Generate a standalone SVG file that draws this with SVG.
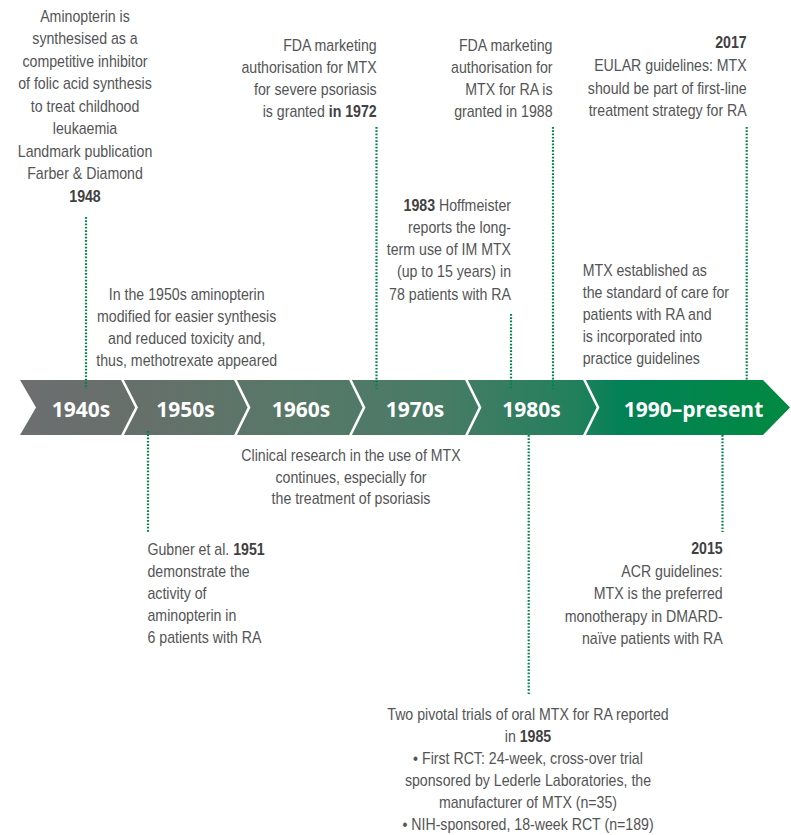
<svg xmlns="http://www.w3.org/2000/svg" width="791" height="835" viewBox="0 0 791 835">
<defs>
<linearGradient id="barGrad" gradientUnits="userSpaceOnUse" x1="20" y1="0" x2="790" y2="0">
<stop offset="0" stop-color="#6d6e70"/>
<stop offset="0.17" stop-color="#65706a"/>
<stop offset="0.35" stop-color="#587868"/>
<stop offset="0.55" stop-color="#487b66"/>
<stop offset="0.72" stop-color="#22805c"/>
<stop offset="0.78" stop-color="#038157"/>
<stop offset="1" stop-color="#008a40"/>
</linearGradient>
<style>
.t{font-family:"Liberation Sans",Arial,sans-serif;font-size:16px;fill:#545456}
.b{font-weight:bold;fill:#414042}
.mid{text-anchor:middle}
.end{text-anchor:end}
.yr{font-family:"Open Sans","DejaVu Sans",sans-serif;font-size:21px;font-weight:700;fill:#ffffff;text-anchor:middle}
.dot{fill:none;stroke:#00844a;stroke-width:2.2;stroke-dasharray:1.7 1.6}
.sep{fill:none;stroke:#ffffff;stroke-width:2.6}
</style>
</defs>
<rect width="791" height="835" fill="#ffffff"/>

<g id="timeline-bar">
<path d="M20,380 L763,380 L790,407.5 L763,435 L20,435 L36,407.5 Z" fill="url(#barGrad)"/>
<path class="sep" d="M122,379 L136.5,407.5 L122,436"/>
<path class="sep" d="M235,379 L249,407.5 L235,436"/>
<path class="sep" d="M350,379 L364,407.5 L350,436"/>
<path class="sep" d="M466,379 L480,407.5 L466,436"/>
<path class="sep" d="M584,379 L598,407.5 L584,436"/>
</g>

<g id="decade-1940s"><text class="yr" x="81" y="416.5">1940s</text></g>
<g id="decade-1950s"><text class="yr" x="185.5" y="416.5">1950s</text></g>
<g id="decade-1960s"><text class="yr" x="301" y="416.5">1960s</text></g>
<g id="decade-1970s"><text class="yr" x="415" y="416.5">1970s</text></g>
<g id="decade-1980s"><text class="yr" x="531.5" y="416.5">1980s</text></g>
<g id="decade-1990-present"><text class="yr" x="693.5" y="416.5">1990–present</text></g>

<g id="connectors">
<line class="dot" x1="86" y1="217" x2="86" y2="389"/>
<line class="dot" x1="376.5" y1="127" x2="376.5" y2="389"/>
<line class="dot" x1="511" y1="314" x2="511" y2="389"/>
<line class="dot" x1="553" y1="127" x2="553" y2="389"/>
<line class="dot" x1="746.7" y1="127" x2="746.7" y2="380"/>
<line class="dot" x1="148" y1="431" x2="148" y2="532"/>
<line class="dot" x1="528.7" y1="435" x2="528.7" y2="695"/>
<line class="dot" x1="722.5" y1="435" x2="722.5" y2="532"/>
</g>

<g id="event-1948" transform="translate(85,0) scale(0.885,1)">
<text class="t mid" x="0" y="22">Aminopterin is</text>
<text class="t mid" x="0" y="44.5">synthesised as a</text>
<text class="t mid" x="0" y="67">competitive inhibitor</text>
<text class="t mid" x="0" y="89.5">of folic acid synthesis</text>
<text class="t mid" x="0" y="112">to treat childhood</text>
<text class="t mid" x="0" y="134.5">leukaemia</text>
<text class="t mid" x="0" y="157">Landmark publication</text>
<text class="t mid" x="0" y="179.5">Farber &amp; Diamond</text>
<text class="t b mid" x="0" y="202">1948</text>
</g>

<g id="event-1972" transform="translate(376.7,0) scale(0.885,1)">
<text class="t end" x="0" y="51.5">FDA marketing</text>
<text class="t end" x="0" y="73.5">authorisation for MTX</text>
<text class="t end" x="0" y="95.5">for severe psoriasis</text>
<text class="t end" x="0" y="117.5">is granted <tspan class="b">in 1972</tspan></text>
</g>

<g id="event-1988" transform="translate(552.5,0) scale(0.885,1)">
<text class="t end" x="0" y="51.5">FDA marketing</text>
<text class="t end" x="0" y="73.5">authorisation for</text>
<text class="t end" x="0" y="95.5">MTX for RA is</text>
<text class="t end" x="0" y="117.5">granted in 1988</text>
</g>

<g id="event-2017" transform="translate(746.7,0) scale(0.885,1)">
<text class="t b end" x="0" y="48.5">2017</text>
<text class="t end" x="0" y="71.5">EULAR guidelines: MTX</text>
<text class="t end" x="0" y="94">should be part of first-line</text>
<text class="t end" x="0" y="116.5">treatment strategy for RA</text>
</g>

<g id="event-1983" transform="translate(511,0) scale(0.885,1)">
<text class="t end" x="0" y="211.5"><tspan class="b">1983</tspan> Hoffmeister</text>
<text class="t end" x="0" y="233.5">reports the long-</text>
<text class="t end" x="0" y="255.5">term use of IM MTX</text>
<text class="t end" x="0" y="277.5">(up to 15 years) in</text>
<text class="t end" x="0" y="300">78 patients with RA</text>
</g>

<g id="event-1950s" transform="translate(186.7,0) scale(0.885,1)">
<text class="t mid" x="0" y="300">In the 1950s aminopterin</text>
<text class="t mid" x="0" y="322">modified for easier synthesis</text>
<text class="t mid" x="0" y="344">and reduced toxicity and,</text>
<text class="t mid" x="0" y="366">thus, methotrexate appeared</text>
</g>

<g id="event-1990s" transform="translate(582.7,0) scale(0.885,1)">
<text class="t" x="0" y="276">MTX established as</text>
<text class="t" x="0" y="298">the standard of care for</text>
<text class="t" x="0" y="320">patients with RA and</text>
<text class="t" x="0" y="342">is incorporated into</text>
<text class="t" x="0" y="364">practice guidelines</text>
</g>

<g id="event-1960s" transform="translate(351,0) scale(0.885,1)">
<text class="t mid" x="0" y="461">Clinical research in the use of MTX</text>
<text class="t mid" x="0" y="483">continues, especially for</text>
<text class="t mid" x="0" y="504.5">the treatment of psoriasis</text>
</g>

<g id="event-1951" transform="translate(147.5,0) scale(0.885,1)">
<text class="t" x="0" y="555.5">Gubner et al. <tspan class="b">1951</tspan></text>
<text class="t" x="0" y="577.5">demonstrate the</text>
<text class="t" x="0" y="599.5">activity of</text>
<text class="t" x="0" y="621.5">aminopterin in</text>
<text class="t" x="0" y="643.5">6 patients with RA</text>
</g>

<g id="event-2015" transform="translate(722.7,0) scale(0.885,1)">
<text class="t b end" x="0" y="554.5">2015</text>
<text class="t end" x="0" y="577">ACR guidelines:</text>
<text class="t end" x="0" y="599.5">MTX is the preferred</text>
<text class="t end" x="0" y="622">monotherapy in DMARD-</text>
<text class="t end" x="0" y="644">naïve patients with RA</text>
</g>

<g id="event-1985" transform="translate(528,0) scale(0.885,1)">
<text class="t mid" x="0" y="720.5">Two pivotal trials of oral MTX for RA reported</text>
<text class="t mid" x="0" y="742.5">in <tspan class="b">1985</tspan></text>
<text class="t mid" x="0" y="764.5">• First RCT: 24-week, cross-over trial</text>
<text class="t mid" x="0" y="786.5">sponsored by Lederle Laboratories, the</text>
<text class="t mid" x="0" y="808.5">manufacturer of MTX (n=35)</text>
<text class="t mid" x="0" y="830">• NIH-sponsored, 18-week RCT (n=189)</text>
</g>
</svg>
